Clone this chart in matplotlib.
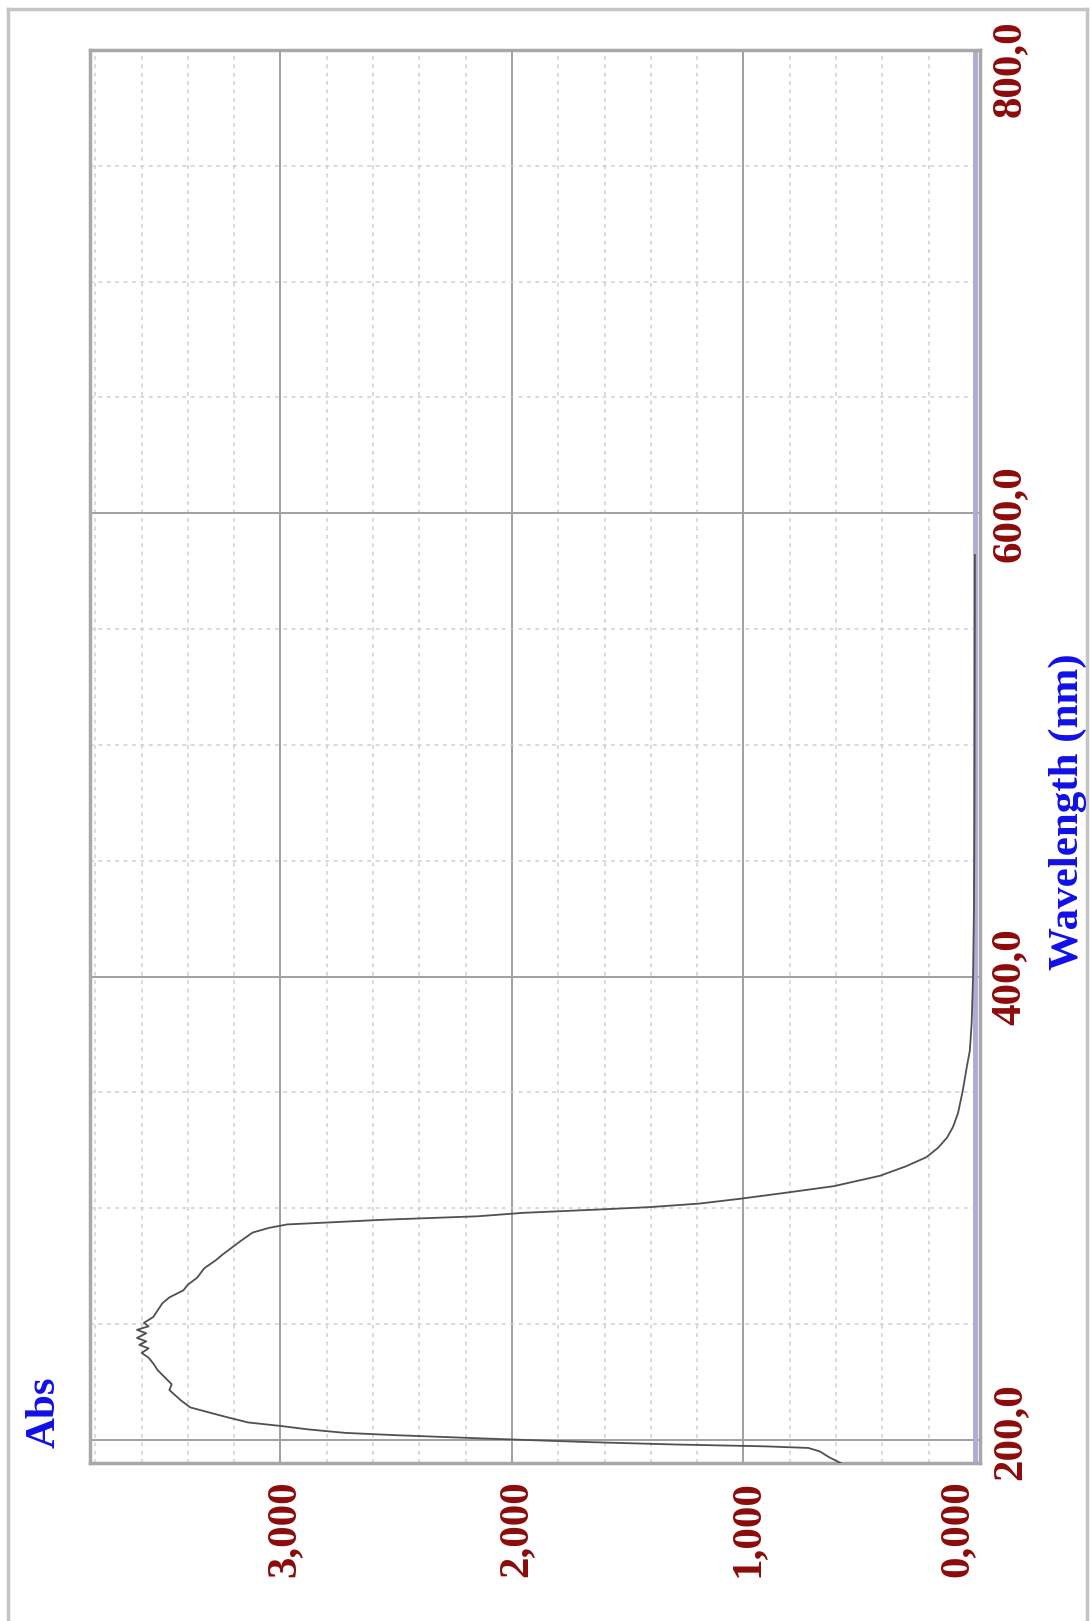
import numpy as np
import matplotlib.pyplot as plt
from matplotlib.lines import Line2D

# UV-Vis absorption spectrum, printed sideways (wavelength runs up the page)
wavelength = [190, 192.5, 195, 196.5, 197.2, 198, 199, 200.5, 202, 203, 204.5,
              206, 207.5, 210, 214, 217, 221.5, 224, 227, 230, 233, 235.5,
              237.5, 239.5, 241, 242.5, 244, 246, 247.5, 249, 250.5, 253, 256,
              259, 261.5, 264.5, 267, 270, 274, 277.5, 280, 283, 286, 289.5,
              291.5, 293, 294, 295, 296.5, 298, 299.5, 300.5, 302, 304, 306.5,
              309.5, 314, 318, 322, 326, 330.5, 335, 341, 351, 361, 368, 380,
              400, 430, 470, 520, 582]
absorbance = [0.58, 0.63, 0.67, 0.72, 0.91, 1.30, 1.66, 2.10, 2.50, 2.72, 2.88,
              3.00, 3.14, 3.24, 3.39, 3.43, 3.48, 3.47, 3.50, 3.53, 3.55, 3.57,
              3.60, 3.57, 3.61, 3.58, 3.62, 3.58, 3.62, 3.57, 3.59, 3.55, 3.53,
              3.51, 3.48, 3.42, 3.40, 3.36, 3.33, 3.28, 3.25, 3.21, 3.17, 3.12,
              3.05, 2.97, 2.76, 2.56, 2.15, 1.95, 1.61, 1.40, 1.19, 1.02, 0.83,
              0.61, 0.41, 0.30, 0.21, 0.16, 0.12, 0.095, 0.073, 0.052, 0.035,
              0.022, 0.014, 0.008, 0.004, 0.002, 0.001, 0.0]

abs_ticks = [0, 1, 2, 3]
abs_labels = ["0,000", "1,000", "2,000", "3,000"]
wl_ticks = [200, 400, 600, 800]
wl_labels = ["200,0", "400,0", "600,0", "800,0"]

W, H = 1090, 1621
fig = plt.figure(figsize=(W / 100, H / 100), dpi=100)
ax = fig.add_axes([90 / W, 1 - 1463 / H, 890 / W, 1413 / H])

ax.set_xlim(3.823, -0.022)
ax.set_ylim(190, 800)

# minor dashed grid, major solid grid
for a in np.arange(0.2, 3.81, 0.2):
    if abs(a - round(a)) > 1e-6:
        ax.axvline(a, color="#cfcfcf", lw=1.1, ls=(0, (2.5, 3)), zorder=1)
for a in [1, 2, 3]:
    ax.axvline(a, color="#a0a0a0", lw=1.4, zorder=1)
for w in range(250, 800, 50):
    if w % 200 != 0:
        ax.axhline(w, color="#cfcfcf", lw=1.1, ls=(0, (2.5, 3)), zorder=1)
for w in [200, 400, 600]:
    ax.axhline(w, color="#a0a0a0", lw=1.4, zorder=1)
ax.axvline(0, color="#acacd4", lw=3.5, zorder=2)

ax.plot(absorbance, wavelength, color="#505050", lw=1.3, zorder=3)

for s in ax.spines.values():
    s.set_color("#a8a8a8")
    s.set_linewidth(2.5)
ax.set_xticks([])
ax.set_yticks([])

lab_font = dict(family="Liberation Serif", weight="bold", size=31)
dark_red = "#8c0a0a"
for v, t in zip(abs_ticks, abs_labels):
    dx = -17 if v == 0 else 4
    ax.annotate(t, xy=(v, 0), xycoords=("data", "axes fraction"),
                xytext=(dx, -17), textcoords="offset pixels", rotation=90,
                ha="center", va="top", color=dark_red, **lab_font)
for v, t in zip(wl_ticks, wl_labels):
    dy = -19 if v == 800 else (8 if v == 200 else 0)
    ax.annotate(t, xy=(1, v), xycoords=("axes fraction", "data"),
                xytext=(11, dy), textcoords="offset pixels", rotation=90,
                ha="left", va="center", color=dark_red, **lab_font)

blue = "#1010e8"
fig.text(45 / W, 1 - 1412 / H, "Abs", rotation=90, ha="center", va="center",
         color=blue, family="Liberation Serif", weight="bold", size=31)
fig.text(1068 / W, 1 - 812 / H, "Wavelength (nm)", rotation=90, ha="center",
         va="center", color=blue, family="Liberation Serif", weight="bold", size=31)

# outer frame (open at the bottom)
for xs, ys in [((8, 8), (9, H)), ((8, 1087), (9, 9)), ((1087, 1087), (9, H))]:
    fig.add_artist(Line2D([x / W for x in xs], [1 - y / H for y in ys],
                          color="#c4c4c4", lw=2.5, transform=fig.transFigure))

fig.savefig("out.png", dpi=100)
